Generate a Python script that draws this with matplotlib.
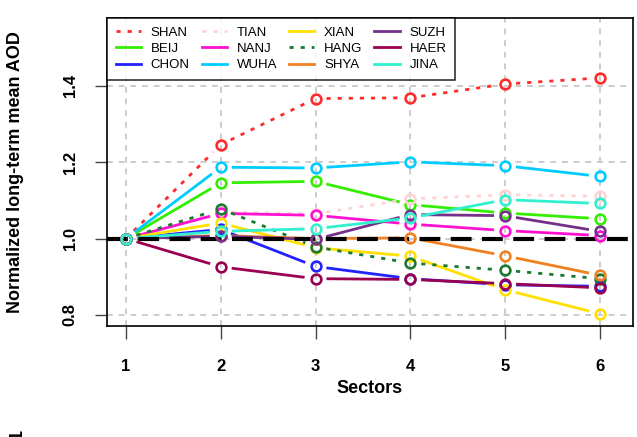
import numpy as np
import matplotlib
matplotlib.use("Agg")
import matplotlib.pyplot as plt

plt.rcParams['font.family'] = ['Liberation Sans', 'DejaVu Sans']

# sectors and normalized AOD per city
sectors = [1, 2, 3, 4, 5, 6]
SHAN = [1.0, 1.246, 1.367, 1.369, 1.405, 1.421]
BEIJ = [1.0, 1.146, 1.150, 1.089, 1.067, 1.052]
CHON = [1.0, 1.024, 0.927, 0.895, 0.879, 0.875]
TIAN = [1.0, 1.070, 1.065, 1.104, 1.115, 1.111]
NANJ = [1.0, 1.066, 1.061, 1.038, 1.021, 1.008]
WUHA = [1.0, 1.187, 1.185, 1.201, 1.191, 1.163]
XIAN = [1.0, 1.041, 0.976, 0.954, 0.866, 0.803]
HANG = [1.0, 1.078, 0.978, 0.936, 0.917, 0.895]
SHYA = [1.0, 1.008, 1.000, 1.002, 0.955, 0.904]
SUZH = [1.0, 1.006, 0.998, 1.063, 1.060, 1.019]
HAER = [1.0, 0.926, 0.895, 0.893, 0.882, 0.871]
JINA = [1.0, 1.019, 1.026, 1.054, 1.102, 1.092]

names = ['SHAN', 'BEIJ', 'CHON', 'TIAN', 'NANJ', 'WUHA',
         'XIAN', 'HANG', 'SHYA', 'SUZH', 'HAER', 'JINA']
series = [SHAN, BEIJ, CHON, TIAN, NANJ, WUHA, XIAN, HANG, SHYA, SUZH, HAER, JINA]
colors = ['#ff2a2a', '#33ee00', '#2222ff', '#ffd3d3', '#ff10d0', '#00ccff',
          '#ffe000', '#1a7a30', '#f08020', '#75308a', '#990050', '#30f0d0']
dotted = ['SHAN', 'TIAN', 'HANG']

fig = plt.figure(figsize=(6.37, 4.37), dpi=100)
ax = fig.add_axes([107/637, 1-326/437, (633-107)/637, (326-18)/437])
ax.set_xlim(0.8, 6.35)
ax.set_ylim(0.771, 1.578)

# grid
for x in sectors:
    ax.axvline(x, color='#cccccc', lw=1.4, ls=(0, (3, 3)), zorder=0)
for y in [0.8, 1.0, 1.2, 1.4]:
    ax.axhline(y, color='#cccccc', lw=1.4, ls=(0, (3, 3)), zorder=0)

fig.canvas.draw()
tr = ax.transData
gap = 11  # pixels between point centre and line end (R type="b")

for name, vals, c in zip(names, series, colors):
    ls = (0, (1.5, 2.5)) if name in dotted else '-'
    pts = tr.transform(np.column_stack([sectors, vals]))
    for i in range(len(pts) - 1):
        p0, p1 = pts[i], pts[i + 1]
        d = p1 - p0
        L = np.hypot(*d)
        if L <= 2 * gap:
            continue
        u = d / L
        a = tr.inverted().transform([p0 + u * gap, p1 - u * gap])
        ax.plot(a[:, 0], a[:, 1], color=c, lw=2, ls=ls, zorder=2,
                solid_capstyle='butt', dash_capstyle='butt')
    ax.plot(sectors, vals, ls='none', marker='o', ms=7, mfc='none',
            mec=c, mew=1.9, zorder=4)
    ax.plot([], [], color=c, lw=2, ls=ls, label=name)

ax.axhline(1.0, color='black', lw=3, ls=(0, (5, 2.5)), zorder=3)

leg = ax.legend(loc='upper left', ncol=4, fontsize=9.5, frameon=True, fancybox=False,
                edgecolor='black', handlelength=1.9, mode='expand',
                labelspacing=0.3, borderaxespad=0, handletextpad=0.75,
                borderpad=0.65, bbox_to_anchor=(0, 0, 348/526, 1))
leg.get_frame().set_linewidth(1.2)
leg.set_zorder(10)

ax.set_xticks(sectors)
ax.set_xticklabels([str(s) for s in sectors], fontsize=12, fontweight='bold')
ax.set_yticks([0.8, 1.0, 1.2, 1.4])
ax.set_yticklabels(['0.8', '1.0', '1.2', '1.4'], fontsize=12, fontweight='bold',
                   rotation=90, va='center')
ax.tick_params(axis='x', length=9, width=1, pad=15, color='#444444')
ax.tick_params(axis='y', length=9, width=1, pad=12, color='#444444')
for s in ax.spines.values():
    s.set_linewidth(1.2)

ax.set_xlabel('Sectors', fontsize=13, fontweight='bold', labelpad=4)
ax.set_ylabel('Normalized long-term mean AOD', fontsize=13, fontweight='bold', labelpad=28)

# stray label cut off at the bottom edge in the original
fig.text(0.027, 1 - 434/437, '1', rotation=90, fontsize=13, fontweight='bold',
         ha='center', va='center')

fig.savefig('out.png', dpi=100)
